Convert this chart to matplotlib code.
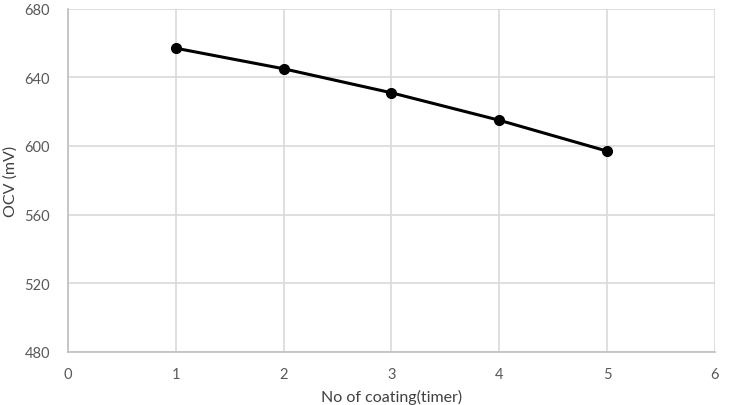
import matplotlib.pyplot as plt

# data
coatings = [1, 2, 3, 4, 5]
ocv_mv = [657, 645, 631, 615, 597]

x_ticks = [0, 1, 2, 3, 4, 5, 6]
y_ticks = [480, 520, 560, 600, 640, 680]


def main():
    plt.rcParams['font.family'] = ['Lato', 'DejaVu Sans']

    fig = plt.figure(figsize=(7.31, 4.06), dpi=100)
    ax = fig.add_axes([0.093, 0.131, 0.885, 0.845])

    ax.plot(coatings, ocv_mv, color='black', lw=2.2, marker='o', ms=7, zorder=3)

    ax.set_xlim(0, 6)
    ax.set_ylim(480, 680)
    ax.set_xticks(x_ticks)
    ax.set_yticks(y_ticks)
    ax.grid(True, color='#d9d9d9', lw=1.2)
    ax.set_axisbelow(True)

    for s in ['top', 'right']:
        ax.spines[s].set_visible(False)
    for s in ['left', 'bottom']:
        ax.spines[s].set_color('#bfbfbf')
        ax.spines[s].set_linewidth(1.2)

    ax.tick_params(length=0, labelsize=10.5, colors='#595959')
    ax.tick_params(axis='x', pad=11)
    ax.tick_params(axis='y', pad=13)

    ax.set_xlabel('No of coating(timer)', fontsize=11.5, color='#404040', labelpad=6)
    ax.set_ylabel('OCV (mV)', fontsize=11.5, color='#404040')
    ax.yaxis.set_label_coords(-0.078, 0.5)

    fig.savefig('out.png', dpi=100)


if __name__ == "__main__":
    main()
